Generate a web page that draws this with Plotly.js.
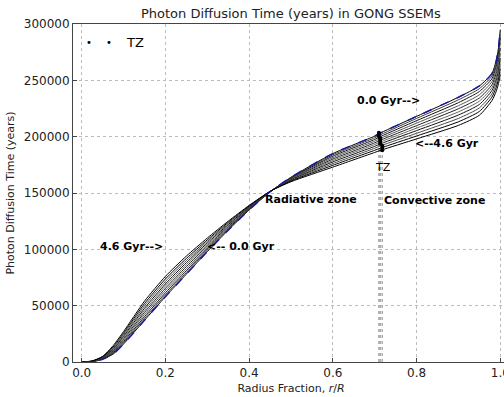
<!DOCTYPE html>
<html><head><meta charset="utf-8">
<script src="https://cdn.plot.ly/plotly-3.0.1.min.js"></script>
<style>html,body{margin:0;padding:0;overflow:hidden;background:#fff}</style>
</head><body><div id="chart"></div>
<script>
// radius grid (r/R)
const radius = [0.0,0.025,0.05,0.075,0.1,0.15,0.2,0.25,0.3,0.35,0.4,0.45,0.5,0.6,0.7,0.715,0.8,0.9,0.95,0.98,0.99,0.995,1.0];
const ages = ['0.0','0.5','1.0','1.5','2.0','2.5','3.0','3.5','4.0','4.6'];
// photon diffusion time (years) for each model
const t00 = [0,200,2500,7000,16000,37000,58000,78000,98000,117000,135000,151000,164000,185000,200500,203500,218000,235000,245000,256000,267000,277000,295000];
const t05 = [0,250,2700,7500,17000,38500,59600,79400,99100,117700,135400,151100,163600,183900,199000,201900,216200,232700,242600,253800,264600,274200,291400];
const t10 = [0,330,3000,8200,18100,40200,61400,81000,100300,118500,135800,151100,163200,182700,197500,200300,214200,230200,240100,251400,261900,271100,287400];
const t15 = [0,400,3300,8900,19300,42100,63400,82800,101600,119400,136200,151200,162800,181400,196000,198700,212000,227500,237200,248800,258900,267700,283000];
const t20 = [0,480,3500,9700,20500,44000,65400,84600,102900,120300,136600,151200,162400,180100,194500,197100,209800,224800,234300,246100,255900,264300,278600];
const t25 = [0,560,3800,10500,21700,45800,67400,86300,104200,121200,137100,151300,162000,178900,193000,195500,207600,222000,231500,243500,253000,260900,274200];
const t30 = [0,650,4100,11300,22900,47700,69300,88100,105600,122000,137500,151300,161600,177600,191400,193800,205400,219200,228600,240900,250000,257500,269800];
const t35 = [0,750,4400,12200,24200,49800,71500,90000,107000,123000,138000,151400,161100,176100,189700,192000,203000,216200,225500,238000,246800,253800,265000];
const t40 = [0,870,4700,13300,25600,51800,73700,91900,108400,124000,138500,151400,160600,174600,187900,190000,200600,213200,222400,235100,243500,250000,260200];
const t46 = [0,1000,5000,14500,27000,54000,76000,94000,110000,125000,139000,151500,160000,173000,186000,188000,198000,210000,219000,232000,240000,246000,255000];
const models = [t00,t05,t10,t15,t20,t25,t30,t35,t40,t46];
// tachocline (TZ) position and time for each model
const tzR = [0.710,0.710,0.710,0.713,0.713,0.713,0.713,0.718,0.718,0.718];
const tzT = [203500,201900,200300,198700,197100,195500,193800,192000,190000,188000];
const yTicks = [0,50000,100000,150000,200000,250000,300000];

const lineColors = ['#000000','#3a3a3a','#111111','#555555','#222222','#666666','#111111','#4a4a4a','#000000','#000000'];
const traces = [];
tzR.forEach((r,i)=>{
  traces.push({x:[r,r],y:[0,tzT[i]],mode:'lines',line:{color:'#aaa',width:0.8,dash:'dot'},showlegend:false,hoverinfo:'skip'});
});
models.forEach((m,i)=>{
  traces.push({x:radius,y:m,mode:'lines',line:{color:lineColors[i],width:1,shape:'spline',smoothing:0.6},name:ages[i]+' Gyr',showlegend:false});
});
traces.push({x:radius,y:t00,mode:'lines',line:{color:'#1a1aa0',width:1.5,dash:'dash',shape:'spline',smoothing:0.6},showlegend:false});
traces.push({x:tzR,y:tzT,mode:'markers',marker:{color:'#000',size:4},name:'TZ',showlegend:false});

const F = 'DejaVu Sans, sans-serif';
const ann = (x,y,t,bold)=>({x:x,y:y,xref:'x',yref:'y',xanchor:'center',yanchor:'middle',text:bold?'<b>'+t+'</b>':t,showarrow:false,font:{family:F,size:11,color:'#000'}});
const annotations = [
  ann(0.732,232000,'0.0 Gyr-->',true),
  ann(0.873,193500,'<--4.6 Gyr',true),
  ann(0.72,173000,'TZ',false),
  ann(0.548,143800,'Radiative zone',true),
  ann(0.844,143500,'Convective zone',true),
  ann(0.12,102300,'4.6 Gyr-->',true),
  ann(0.381,102300,'<-- 0.0 Gyr',true),
  {x:0.0367,y:0.944,xref:'paper',yref:'paper',xanchor:'center',yanchor:'middle',text:'•',showarrow:false,font:{family:F,size:10,color:'#000'}},
  {x:0.0826,y:0.944,xref:'paper',yref:'paper',xanchor:'center',yanchor:'middle',text:'•',showarrow:false,font:{family:F,size:10,color:'#000'}},
  {x:0.118,y:0.944,xref:'paper',yref:'paper',xanchor:'left',yanchor:'middle',text:'TZ',showarrow:false,font:{family:F,size:13,color:'#000'}}
];

const layout = {
  width:514,height:397,
  margin:{l:73,r:5,t:24,b:35},
  paper_bgcolor:'#fff',plot_bgcolor:'#fff',
  font:{family:F,size:12,color:'#222'},
  title:{text:'Photon Diffusion Time (years) in GONG SSEMs',x:0.566,xanchor:'center',y:0.965,yanchor:'middle',font:{family:F,size:13,color:'#222'}},
  xaxis:{range:[-0.0208,1.0208],tickvals:[0,0.2,0.4,0.6,0.8,1.0],tickformat:'.1f',ticks:'inside',ticklen:4,tickcolor:'#444',
    showline:true,mirror:true,linecolor:'#444',linewidth:1,showgrid:true,gridcolor:'#bbb',griddash:'dot',gridwidth:1,zeroline:false,
    tickfont:{family:F,size:12,color:'#222'},
    title:{text:'Radius Fraction, <i>r</i>/<i>R</i>',font:{family:F,size:11,color:'#222'},standoff:4}},
  yaxis:{range:[0,300000],tickvals:yTicks,tickformat:'d',ticks:'inside',ticklen:4,tickcolor:'#444',
    showline:true,mirror:true,linecolor:'#444',linewidth:1,showgrid:true,gridcolor:'#bbb',griddash:'dot',gridwidth:1,zeroline:false,
    tickfont:{family:F,size:12,color:'#222'},
    title:{text:'Photon Diffusion Time (years)',font:{family:F,size:11,color:'#222'},standoff:6}},
  annotations:annotations,
  showlegend:false
};
Plotly.newPlot('chart',traces,layout,{displayModeBar:false,staticPlot:true});
</script></body></html>
